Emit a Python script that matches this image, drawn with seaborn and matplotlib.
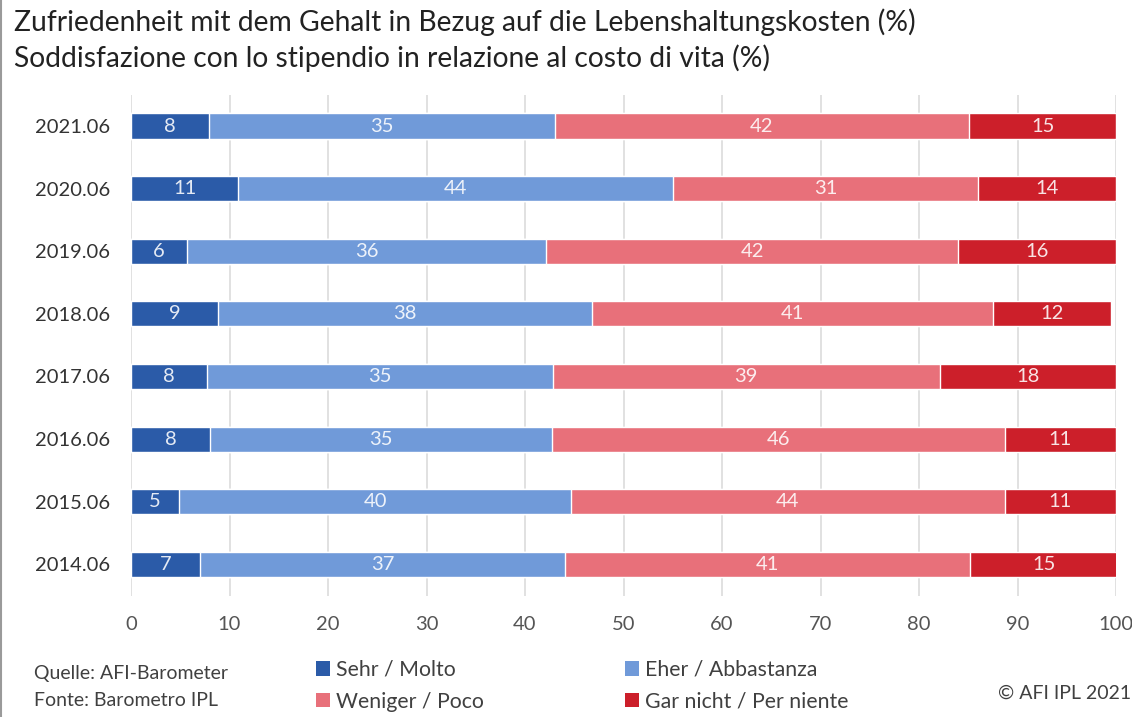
#import packages
import pandas as pd
import matplotlib
matplotlib.use("Agg")
import matplotlib.pyplot as plt
from matplotlib.patches import Patch
from matplotlib.lines import Line2D
import seaborn as sns

#data (percent)
years = ["2021.06", "2020.06", "2019.06", "2018.06", "2017.06", "2016.06", "2015.06", "2014.06"]
sehr = [7.9, 10.9, 5.7, 8.8, 7.7, 8.0, 4.9, 7.0]
eher = [35.1, 44.1, 36.4, 38.0, 35.1, 34.7, 39.8, 37.1]
weniger = [42.1, 31.0, 41.9, 40.7, 39.3, 46.0, 44.0, 41.1]
gar_nicht = [14.9, 14.0, 16.0, 12.0, 17.9, 11.3, 11.3, 15.0]

categories = ["Sehr / Molto", "Eher / Abbastanza", "Weniger / Poco", "Gar nicht / Per niente"]
colors = ["#2b5ba8", "#709ad9", "#e8707a", "#cc1f2a"]

#long table with cumulative ends for stacking
df = pd.DataFrame({"year": years, categories[0]: sehr, categories[1]: eher,
                   categories[2]: weniger, categories[3]: gar_nicht})
long = df.melt(id_vars="year", var_name="category", value_name="value")
long["category"] = pd.Categorical(long["category"], categories, ordered=True)
long = long.sort_values(["year", "category"])
long["end"] = long.groupby("year")["value"].cumsum()
long["mid"] = long["end"] - long["value"] / 2

sns.set_style("white")
plt.rcParams["font.family"] = ["Lato", "DejaVu Sans"]

fig = plt.figure(figsize=(11.32, 7.17), dpi=100)
ax = fig.add_axes([131 / 1132, 1 - 595.6 / 717, (1116 - 131) / 1132, (595.6 - 94.7) / 717])

#draw from the outermost segment inwards so each bar overlaps the previous
for cat, col in reversed(list(zip(categories, colors))):
    sub = long[long["category"] == cat]
    sns.barplot(data=sub, x="end", y="year", order=years, orient="h",
                color=col, saturation=1, width=0.4, ax=ax, zorder=2)

for _, row in long.iterrows():
    ax.text(row["mid"], years.index(row["year"]), f"{row['value']:.0f}",
            ha="center", va="center", color="white", fontsize=14.5, alpha=0.88, zorder=3)

ax.set_xlim(0, 100)
ax.set_ylim(len(years) - 0.5, -0.5)
ax.set_xticks(range(0, 101, 10))
ax.xaxis.grid(True, color="#dcdcdc", linewidth=1.2, zorder=0)
ax.set_axisbelow(True)
ax.tick_params(axis="both", length=0, pad=15, labelsize=14.5, colors="#555555")
ax.tick_params(axis="y", labelcolor="#333333")
ax.set_xlabel("")
ax.set_ylabel("")
sns.despine(ax=ax, left=True, bottom=True)

fig.text(14 / 1132, 1 - 22 / 717, "Zufriedenheit mit dem Gehalt in Bezug auf die Lebenshaltungskosten (%)",
         fontsize=20.3, color="#222222", va="center")
fig.text(14 / 1132, 1 - 58 / 717, "Soddisfazione con lo stipendio in relazione al costo di vita (%)",
         fontsize=20.3, color="#222222", va="center")

fig.text(34 / 1132, 1 - 673 / 717, "Quelle: AFI-Barometer", fontsize=14, color="#404040", va="center")
fig.text(34 / 1132, 1 - 701 / 717, "Fonte: Barometro IPL", fontsize=14, color="#404040", va="center")
fig.text(1131 / 1132, 1 - 693 / 717, "© AFI IPL 2021", fontsize=14, color="#404040", va="center", ha="right")

handles = [Patch(facecolor=c, edgecolor="none", label=l) for c, l in zip(colors, categories)]
handles = [handles[0], handles[2], handles[1], handles[3]]
fig.legend(handles=handles, ncol=2, loc="upper left", bbox_to_anchor=(316 / 1132, 1 - 660 / 717),
           frameon=False, fontsize=15.3, handlelength=0.66, handleheight=0.66, handletextpad=0.3,
           columnspacing=6.6, labelspacing=0.55, labelcolor="#404040", borderaxespad=0, borderpad=0)

fig.add_artist(Line2D([0.0005, 0.0005], [0, 1], color="#9a9a9a", linewidth=1.5))

fig.savefig("out.png", dpi=100)
